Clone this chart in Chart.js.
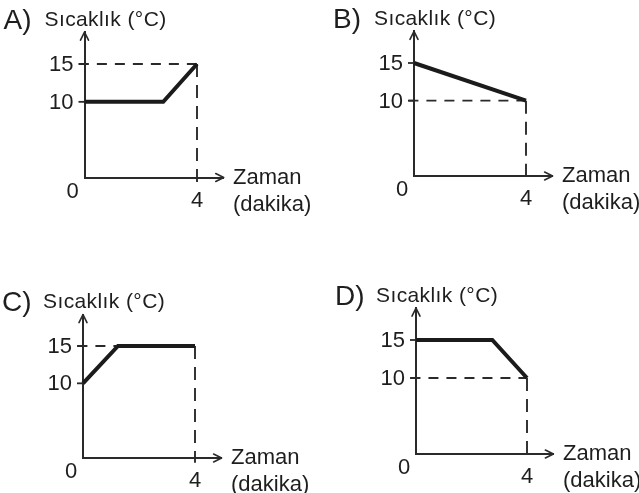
<!DOCTYPE html>
<html>
<head>
<meta charset="utf-8">
<script src="https://cdn.jsdelivr.net/npm/chart.js@4.4.1/dist/chart.umd.min.js"></script>
<style>
  html, body { margin: 0; padding: 0; background: #fff; }
  body { width: 639px; height: 493px; position: relative; overflow: hidden; }
  canvas { position: absolute; }
</style>
</head>
<body>
<canvas id="cA"></canvas>
<canvas id="cB"></canvas>
<canvas id="cC"></canvas>
<canvas id="cD"></canvas>
<script>
// ---------- data ----------
const panelLetters = ['A)', 'B)', 'C)', 'D)'];
const timeA = [0, 2.8, 4];
const tempA = [10, 10, 15];
const timeB = [0, 4];
const tempB = [15, 10];
const timeC = [0, 1.25, 4];
const tempC = [10, 15, 15];
const timeD = [0, 2.75, 4];
const tempD = [15, 15, 10];
const yTickValues = [10, 15];
const xTickValues = [0, 4];
const yAxisTitle = 'Sıcaklık (°C)';
const xAxisTitle = ['Zaman', '(dakika)'];

// ---------- layout / style (page pixels) ----------
const XMAX = 4.95, YMAX = 19.2;
const geom = [
  { id: 'cA', cl: 0,   ct: 0,   cw: 320, ch: 246, x0: 84.5, x4: 197, y0: 177.5, y15: 64 },
  { id: 'cB', cl: 320, ct: 0,   cw: 319, ch: 246, x0: 414,  x4: 526, y0: 176,   y15: 63 },
  { id: 'cC', cl: 0,   ct: 246, cw: 320, ch: 247, x0: 83,   x4: 195, y0: 458,   y15: 346 },
  { id: 'cD', cl: 320, ct: 246, cw: 319, ch: 247, x0: 416,  x4: 527, y0: 454,   y15: 340 }
];
const seriesX = [timeA, timeB, timeC, timeD];
const seriesY = [tempA, tempB, tempC, tempD];
const INK = '#1e1e1e';
const AXIS = '#2a2a2a';
const FONT = '"Liberation Sans", Arial, Helvetica, sans-serif';

const decor = {
  id: 'decor',
  afterDatasetsDraw(chart) {
    const o = chart.options.plugins.decor;
    const { ctx } = chart;
    const x = chart.scales.x, y = chart.scales.y;
    const X0 = x.getPixelForValue(xTickValues[0]);
    const X4 = x.getPixelForValue(xTickValues[1]);
    const Y0 = y.getPixelForValue(0);
    const XT = x.right, YT = y.top;
    ctx.save();
    ctx.strokeStyle = AXIS;
    ctx.lineWidth = 1.6;
    ctx.lineCap = 'round';
    ctx.lineJoin = 'round';
    // arrow heads
    ctx.beginPath();
    ctx.moveTo(X0 - 4, YT + 8); ctx.lineTo(X0, YT); ctx.lineTo(X0 + 4, YT + 8);
    ctx.stroke();
    ctx.beginPath();
    ctx.moveTo(XT - 8, Y0 - 4); ctx.lineTo(XT, Y0); ctx.lineTo(XT - 8, Y0 + 4);
    ctx.stroke();
    // y tick marks
    ctx.lineCap = 'butt';
    ctx.lineWidth = 1.8;
    yTickValues.forEach(v => {
      const py = y.getPixelForValue(v);
      ctx.beginPath(); ctx.moveTo(X0 - 6, py); ctx.lineTo(X0, py); ctx.stroke();
    });
    // texts
    ctx.fillStyle = INK;
    ctx.font = '22px ' + FONT;
    ctx.textBaseline = 'middle';
    ctx.textAlign = 'right';
    yTickValues.forEach(v => ctx.fillText(String(v), X0 - 11, y.getPixelForValue(v) + 1));
    ctx.textAlign = 'center';
    ctx.fillText(String(xTickValues[0]), X0 - 12, Y0 + 14);
    ctx.fillText(String(xTickValues[1]), X4, Y0 + 23);
    ctx.textAlign = 'left';
    ctx.fillText(xAxisTitle[0], X4 + 36, Y0);
    ctx.fillText(xAxisTitle[1], X4 + 36, Y0 + 27);
    ctx.font = '21px ' + FONT;
    try { ctx.letterSpacing = '0.4px'; } catch (e) {}
    ctx.fillText(yAxisTitle, X0 - 40, YT - 12);
    try { ctx.letterSpacing = '0px'; } catch (e) {}
    ctx.font = '28px ' + FONT;
    ctx.fillText(o.letter, X0 - 81, YT - 11);
    ctx.restore();
  }
};

geom.forEach((g, i) => {
  const cv = document.getElementById(g.id);
  cv.width = g.cw; cv.height = g.ch;
  cv.style.left = g.cl + 'px'; cv.style.top = g.ct + 'px';
  cv.style.width = g.cw + 'px'; cv.style.height = g.ch + 'px';
  const chartW = (g.x4 - g.x0) * XMAX / xTickValues[1];
  const chartH = (g.y0 - g.y15) * YMAX / 15;
  const pad = {
    left: g.x0 - g.cl,
    right: g.cw - (g.x0 - g.cl + chartW),
    top: (g.y0 - chartH) - g.ct,
    bottom: g.ch - (g.y0 - g.ct)
  };
  const xs = seriesX[i], ys = seriesY[i];
  const level = ys[ys.length - 1];
  const tEnd = xs[xs.length - 1];
  const guide = {
    borderColor: AXIS,
    borderWidth: 1.9,
    pointRadius: 0,
    fill: false,
    tension: 0,
    clip: false,
    order: 2
  };
  new Chart(cv, {
    type: 'line',
    data: {
      datasets: [
        Object.assign({}, guide, {
          data: [{ x: -0.2, y: level }, { x: tEnd, y: level }],
          borderDash: [10, 8]
        }),
        Object.assign({}, guide, {
          data: [{ x: tEnd, y: level }, { x: tEnd, y: -0.65 }],
          borderDash: [13, 8]
        }),
        {
          data: xs.map((t, k) => ({ x: t, y: ys[k] })),
          borderColor: '#1b1b1b',
          borderWidth: 4,
          borderCapStyle: 'butt',
          borderJoinStyle: 'miter',
          pointRadius: 0,
          fill: false,
          tension: 0,
          clip: false,
          order: 1
        }
      ]
    },
    options: {
      responsive: false,
      animation: false,
      devicePixelRatio: 1,
      layout: { padding: pad },
      events: [],
      plugins: {
        legend: { display: false },
        tooltip: { enabled: false },
        title: { display: false },
        decor: { letter: panelLetters[i] }
      },
      scales: {
        x: {
          type: 'linear', min: 0, max: XMAX,
          grid: { display: false, drawTicks: false },
          ticks: { display: false },
          border: { display: true, color: AXIS, width: 2 }
        },
        y: {
          type: 'linear', min: 0, max: YMAX,
          grid: { display: false, drawTicks: false },
          ticks: { display: false },
          border: { display: true, color: AXIS, width: 2 }
        }
      }
    },
    plugins: [decor]
  });
});
</script>
</body>
</html>
